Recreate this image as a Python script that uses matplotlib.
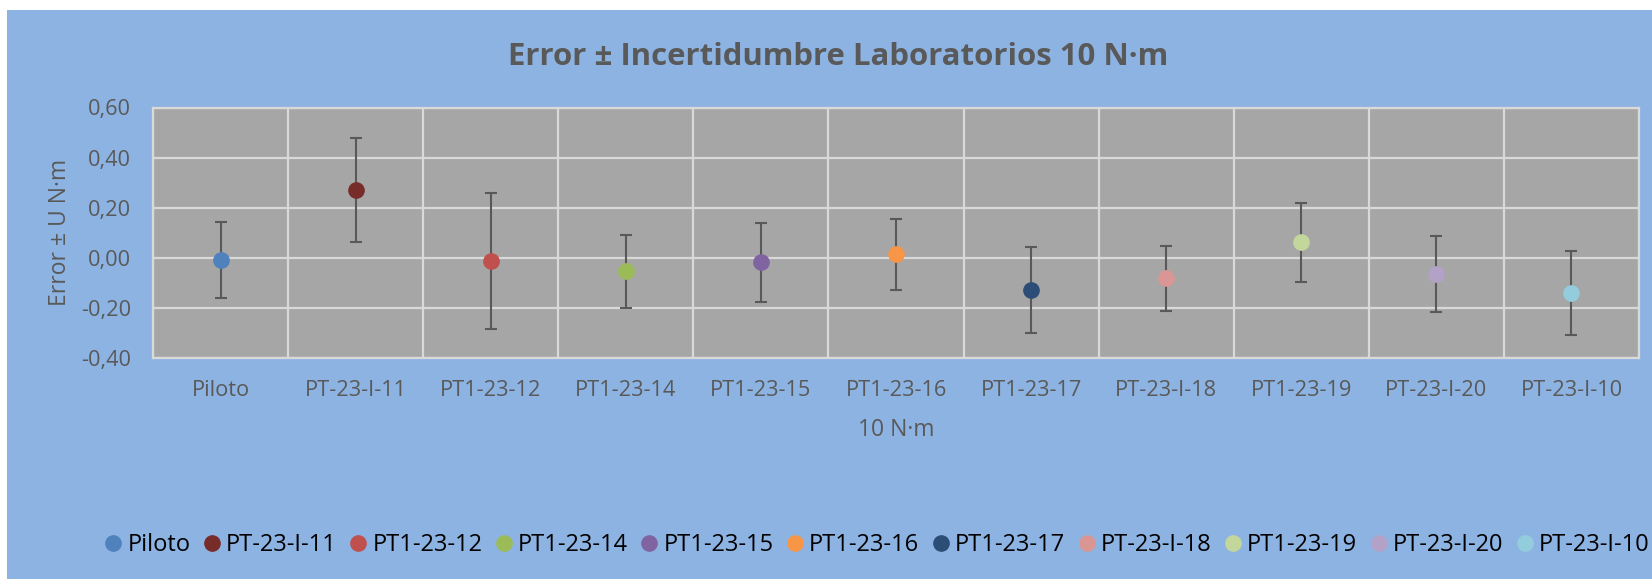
import matplotlib
matplotlib.use("Agg")
import matplotlib.pyplot as plt
from matplotlib.patches import Rectangle
import numpy as np

# data
labs = ["Piloto", "PT-23-I-11", "PT1-23-12", "PT1-23-14", "PT1-23-15", "PT1-23-16",
        "PT1-23-17", "PT-23-I-18", "PT1-23-19", "PT-23-I-20", "PT-23-I-10"]
err = [-0.009, 0.271, -0.014, -0.055, -0.019, 0.013, -0.130, -0.083, 0.061, -0.066, -0.140]
unc = [0.151, 0.208, 0.272, 0.146, 0.157, 0.142, 0.172, 0.130, 0.157, 0.152, 0.168]
cols = ["#4F81BD", "#772C2A", "#C0504D", "#9BBB59", "#8064A2", "#F79646",
        "#2C4D75", "#D99694", "#C3D69B", "#B3A2C7", "#93CDDD"]
yticks = [-0.40, -0.20, 0.00, 0.20, 0.40, 0.60]
ytick_labels = ["-0,40", "-0,20", "0,00", "0,20", "0,40", "0,60"]

plt.rcParams['font.family'] = ['Open Sans', 'DejaVu Sans']
W, H = 1652, 579
fig = plt.figure(figsize=(W / 100, H / 100), dpi=100)
fig.patch.set_facecolor("white")
fig.add_artist(Rectangle((7 / W, 0), 1, 1 - 10 / H, transform=fig.transFigure,
                         facecolor="#8DB3E2", edgecolor="none", zorder=0))

ax = fig.add_axes([153 / W, 1 - 357.7 / H, (1639 - 153) / W, (357.7 - 107.5) / H])
ax.set_facecolor("#A6A6A6")
grey = "#595959"

handles = []
for i in range(len(labs)):
    ax.errorbar(i, err[i], yerr=unc[i], fmt="none", ecolor=grey, elinewidth=1.5,
                capsize=4, capthick=1.5, zorder=3)
    h, = ax.plot(i, err[i], "o", color=cols[i], markersize=11, label=labs[i], zorder=4)
    handles.append(h)

ax.set_xlim(-0.5, len(labs) - 0.5)
ax.set_ylim(-0.4, 0.6)
ax.set_xticks(range(len(labs)))
ax.set_xticklabels(labs, fontsize=15.7, color=grey)
ax.set_xticks(np.arange(-0.5, len(labs), 1), minor=True)
ax.set_yticks(yticks)
ax.set_yticklabels(ytick_labels, fontsize=15.7, color=grey)
ax.tick_params(axis="both", which="both", length=0)
ax.tick_params(axis="y", pad=16)
ax.tick_params(axis="x", pad=16)
ax.grid(axis="y", which="major", color="#D9D9D9", linewidth=1.6)
ax.grid(axis="x", which="minor", color="#D9D9D9", linewidth=1.6)
ax.set_axisbelow(True)
for s in ax.spines.values():
    s.set_color("#D9D9D9")
    s.set_linewidth(1.6)

ax.set_xlabel("10 N·m", fontsize=16.5, color=grey, labelpad=12)
ax.set_ylabel("Error ± U N·m", fontsize=16.5, color=grey, labelpad=6)
fig.text(838 / W, 1 - 57 / H, "Error ± Incertidumbre Laboratorios 10 N·m",
         fontsize=22.4, fontweight="bold", color=grey, ha="center", va="center")

fig.legend(handles=handles, loc="center left", bbox_to_anchor=(105.8 / W, 1 - 545 / H),
           ncol=11, frameon=False, fontsize=17, handletextpad=0.275, columnspacing=0.59,
           handlelength=0.64, borderpad=0, borderaxespad=0, labelcolor="black")

fig.savefig("out.png", dpi=100, facecolor=fig.get_facecolor())
